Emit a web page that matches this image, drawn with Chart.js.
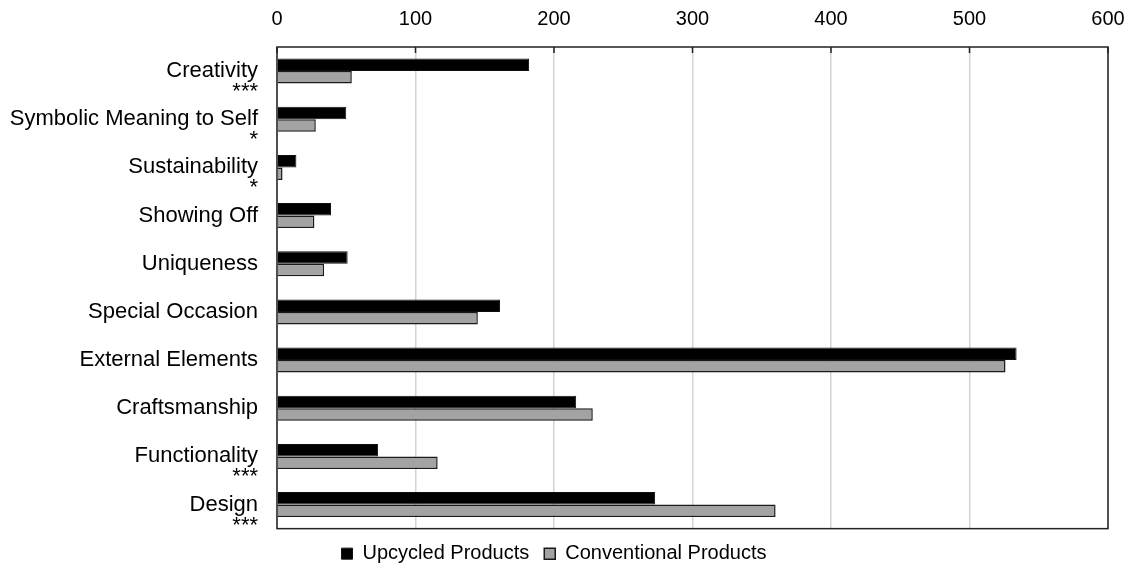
<!DOCTYPE html>
<html>
<head>
<meta charset="utf-8">
<script src="https://cdn.jsdelivr.net/npm/chart.js@4"></script>
<style>
  html, body { margin: 0; padding: 0; background: #fff; }
  #wrap { width: 1134px; height: 571px; }
</style>
</head>
<body>
<div id="wrap"><canvas id="BarChart"></canvas></div>
<script>
// categories, top to bottom
var categories = ['Creativity', 'Symbolic Meaning to Self', 'Sustainability', 'Showing Off', 'Uniqueness',
    'Special Occasion', 'External Elements', 'Craftsmanship', 'Functionality', 'Design'];
// significance marks shown under the label
var stars = ['***', '*', '*', '', '', '', '', '', '***', '***'];
var upcycled = [182, 50, 14, 39, 51, 161, 534, 216, 73, 273];
var conventional = [54, 28, 4, 27, 34, 145, 526, 228, 116, 360];
var xTicks = [0, 100, 200, 300, 400, 500, 600];

var labels = categories.map(function(c, i) {
    return stars[i] ? ['', c, stars[i]] : c;
});

var FONT = "'Liberation Sans', Arial, sans-serif";

// frame round the plot area
var frame = {
    id: 'frame',
    afterDatasetsDraw: function(chart) {
        var a = chart.chartArea, ctx = chart.ctx;
        ctx.save();
        ctx.strokeStyle = '#222';
        ctx.lineWidth = 1.5;
        ctx.strokeRect(a.left, a.top, a.right - a.left, a.bottom - a.top);
        // short inner tick marks on the top edge
        var xs = chart.scales.x;
        xTicks.forEach(function(v) {
            var px = xs.getPixelForValue(v);
            ctx.beginPath();
            ctx.moveTo(px, a.top);
            ctx.lineTo(px, a.top + 6);
            ctx.stroke();
        });
        ctx.restore();
    }
};

var ctx = document.getElementById('BarChart').getContext('2d');
var myBarChart = new Chart(ctx, {
    type: 'bar',
    data: {
        labels: labels,
        datasets: [{
            label: 'Upcycled Products',
            data: upcycled,
            backgroundColor: '#000000',
            borderColor: '#111111',
            borderWidth: 1,
            categoryPercentage: 0.52,
            barPercentage: 1
        }, {
            label: 'Conventional Products',
            data: conventional,
            backgroundColor: '#a3a3a3',
            borderColor: '#1a1a1a',
            borderWidth: 1.5,
            categoryPercentage: 0.52,
            barPercentage: 1
        }]
    },
    options: {
        indexAxis: 'y',
        responsive: true,
        maintainAspectRatio: false,
        animation: false,
        layout: { padding: { left: 0, right: 26, top: 0, bottom: -8 } },
        scales: {
            x: {
                position: 'top',
                min: 0,
                max: 600,
                afterBuildTicks: function(axis) {
                    axis.ticks = xTicks.map(function(v) { return { value: v }; });
                },
                afterFit: function(axis) {
                    axis.height = 47;
                    axis.paddingLeft = 0;
                    axis.paddingRight = 0;
                },
                grid: { color: '#d4d4d4', lineWidth: 1.5, drawTicks: false },
                border: { display: false },
                ticks: { color: '#000', font: { family: FONT, size: 20 }, padding: 16 }
            },
            y: {
                afterFit: function(axis) { axis.width = 277; },
                grid: { display: false },
                border: { display: false },
                ticks: {
                    color: '#000',
                    font: { family: FONT, size: 22, lineHeight: 0.95 },
                    padding: 11,
                    autoSkip: false
                }
            }
        },
        plugins: {
            legend: {
                position: 'bottom',
                labels: {
                    color: '#000',
                    font: { family: FONT, size: 20 },
                    boxWidth: 11,
                    boxHeight: 11,
                    padding: 15
                }
            },
            tooltip: { enabled: false }
        }
    },
    plugins: [frame]
});
</script>
</body>
</html>
